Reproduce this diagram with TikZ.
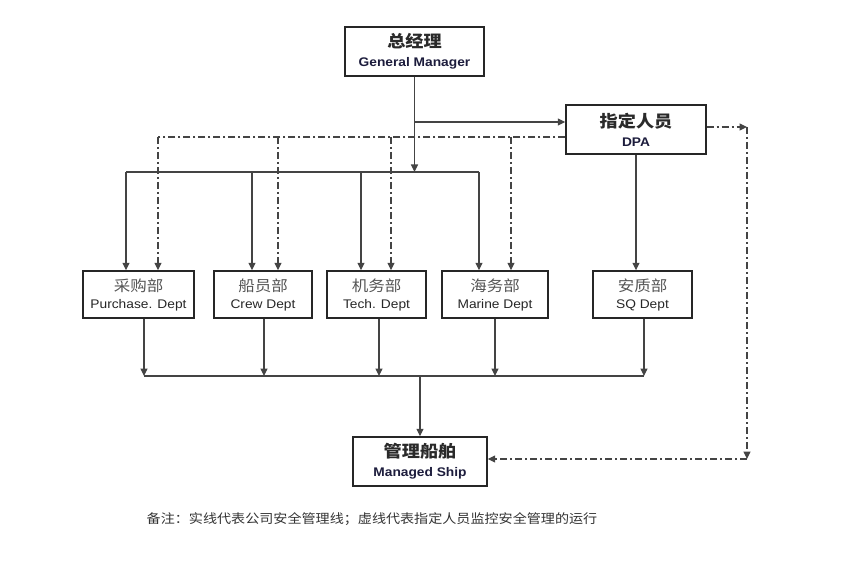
\documentclass[tikz,border=0pt]{standalone}
\usepackage{fontspec}
\usetikzlibrary{arrows.meta}
\newfontfamily\enf{Liberation Sans}[FakeStretch=1.1]
\newfontfamily\cjk{Noto Sans CJK SC}[FakeStretch=1.1]
\definecolor{ln}{HTML}{444444}
\definecolor{navy}{HTML}{1C1C3C}
\definecolor{cgray}{HTML}{555555}
\definecolor{hd}{HTML}{2A2A2A}
\newcommand{\hdcn}[1]{{\cjk\bfseries\fontsize{16.5}{18}\selectfont\color{hd}#1}}
\newcommand{\hden}[1]{{\enf\bfseries\fontsize{12.5}{14}\selectfont\color{navy}#1}}
\newcommand{\dpcn}[1]{{\cjk\fontsize{15}{16}\selectfont\color{cgray}#1}}
\newcommand{\dpen}[1]{{\enf\fontsize{12.5}{14}\selectfont\color{black!85}#1}}
\begin{document}
\begin{tikzpicture}[x=1pt,y=-1pt,
  box/.style={draw=black!85,line width=1.4pt,rectangle,inner sep=0pt,align=center},
  sol/.style={draw=ln,line width=1.1pt},
  arr/.style={-{Triangle[length=7.5pt,width=7pt]}},
  dd/.style={draw=ln,line width=1.1pt,dash pattern=on 7pt off 3pt on 2pt off 3pt}]
\useasboundingbox (0,0) rectangle (849,564);
% boxes
\node[box,minimum width=139pt,minimum height=49pt] (gm) at (414.5,51.5)
  {\hdcn{总经理}\\[7pt]\hden{General Manager}};
\node[box,minimum width=140pt,minimum height=49pt] (dpa) at (636,129.5)
  {\hdcn{指定人员}\\[7pt]\hden{DPA}};
\node[box,minimum width=111pt,minimum height=47pt] (pur) at (138.5,294.5)
  {\dpcn{采购部}\\[5pt]\dpen{Purchase. Dept}};
\node[box,minimum width=98pt,minimum height=47pt] (crew) at (263,294.5)
  {\dpcn{船员部}\\[5pt]\dpen{Crew Dept}};
\node[box,minimum width=99pt,minimum height=47pt] (tech) at (376.5,294.5)
  {\dpcn{机务部}\\[5pt]\dpen{Tech. Dept}};
\node[box,minimum width=106pt,minimum height=47pt] (mar) at (495,294.5)
  {\dpcn{海务部}\\[5pt]\dpen{Marine Dept}};
\node[box,minimum width=99pt,minimum height=47pt] (sq) at (642.5,294.5)
  {\dpcn{安质部}\\[5pt]\dpen{SQ Dept}};
\node[box,minimum width=134pt,minimum height=49pt] (ship) at (420,461.5)
  {\hdcn{管理船舶}\\[7pt]\hden{Managed Ship}};
\node[inner sep=0pt] (note) at (372,519)
  {\cjk\fontsize{12.8}{14}\selectfont\color{black!80}备注：实线代表公司安全管理线；虚线代表指定人员监控安全管理的运行};
% coordinates
\coordinate (gd) at (0,122);
\coordinate (t1) at (126,172);
\coordinate (t2) at (252,172);
\coordinate (t3) at (361,172);
\coordinate (t4) at (479,172);
\coordinate (d1) at (158,137);
\coordinate (d2) at (278,137);
\coordinate (d3) at (391,137);
\coordinate (d4) at (511,137);
\coordinate (sx) at (636,0);
\coordinate (b1) at (144,376);
\coordinate (b2) at (264,376);
\coordinate (b3) at (379,376);
\coordinate (b4) at (495,376);
\coordinate (b5) at (644,376);
\coordinate (rt) at (747,127);
\coordinate (rb) at (747,459);
% solid lines from GM
\draw[sol,arr] (gm.south) -- (gm.south |- t1);
\draw[sol,arr] (gm.south |- gd) -- (gd -| dpa.west);
\draw[sol] (t1) -- (t4);
\draw[sol,arr] (t1) -- (t1 |- pur.north);
\draw[sol,arr] (t2) -- (t2 |- crew.north);
\draw[sol,arr] (t3) -- (t3 |- tech.north);
\draw[sol,arr] (t4) -- (t4 |- mar.north);
% dash-dot from DPA
\draw[dd] (d1 -| dpa.west) -- (d1);
\draw[dd,arr] (d1) -- (d1 |- pur.north);
\draw[dd,arr] (d2) -- (d2 |- crew.north);
\draw[dd,arr] (d3) -- (d3 |- tech.north);
\draw[dd,arr] (d4) -- (d4 |- mar.north);
% DPA to SQ
\draw[sol,arr] (sx |- dpa.south) -- (sx |- sq.north);
% departments to ship
\draw[sol,arr] (b1 |- pur.south) -- (b1);
\draw[sol,arr] (b2 |- crew.south) -- (b2);
\draw[sol,arr] (b3 |- tech.south) -- (b3);
\draw[sol,arr] (b4 |- mar.south) -- (b4);
\draw[sol,arr] (b5 |- sq.south) -- (b5);
\draw[sol] (b1) -- (b5);
\draw[sol,arr] (ship.north |- b1) -- (ship.north);
% DPA monitoring ship
\draw[dd,arr] (rt -| dpa.east) -- (rt);
\draw[dd,arr] (rt) -- (rb);
\draw[dd,arr] (rb) -- (rb -| ship.east);
\end{tikzpicture}
\end{document}
